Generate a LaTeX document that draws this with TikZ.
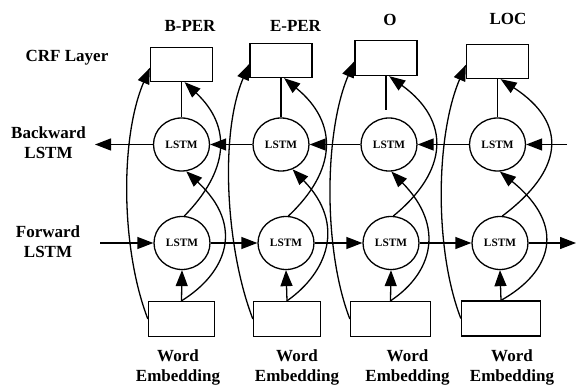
\documentclass[tikz,border=0pt]{standalone}
\usepackage{fontspec}
\setmainfont{Liberation Serif}
\usetikzlibrary{arrows.meta,shapes.geometric}

\begin{document}
\begin{tikzpicture}[x=1pt,y=-1pt,
  line width=1.3pt,
  tip/.style={-{Triangle[length=16pt,width=12pt]}},
  cell/.style={draw,ellipse,minimum width=56pt,minimum height=53pt,inner sep=0pt,
    font=\fontsize{11.3}{13}\selectfont\bfseries},
  crfbox/.style={draw,rectangle,minimum width=62pt,minimum height=34pt,inner sep=0pt},
  embbox/.style={draw,rectangle,minimum height=35pt,inner sep=0pt},
  lbl/.style={font=\fontsize{17}{20}\selectfont\bfseries,inner sep=0pt,align=center},
]
\useasboundingbox (0,0) rectangle (576,385);

% CRF layer boxes
\node[crfbox] (c1) at (181.5,64.5) {};
\node[crfbox] (c2) at (281,60.5) {};
\node[crfbox,minimum height=35pt] (c3) at (386,58) {};
\node[crfbox] (c4) at (497.5,61.5) {};

% backward LSTM cells
\node[cell] (b1) at (181.5,144.5) {LSTM};
\node[cell] (b2) at (281,144.5) {LSTM};
\node[cell] (b3) at (389,144.5) {LSTM};
\node[cell] (b4) at (497.5,144.5) {LSTM};

% forward LSTM cells
\node[cell] (f1) at (182,243) {LSTM};
\node[cell] (f2) at (286,243) {LSTM};
\node[cell] (f3) at (391,243) {LSTM};
\node[cell] (f4) at (500,243) {LSTM};

% word embedding boxes
\node[embbox,minimum width=66pt] (w1) at (181.5,319) {};
\node[embbox,minimum width=67pt] (w2) at (287,319) {};
\node[embbox,minimum width=80pt] (w3) at (390.5,319) {};
\node[embbox,minimum width=79pt] (w4) at (501,318.5) {};

% output tags
\node[lbl,anchor=base] (t1) at (190,32) {B-PER};
\node[lbl,anchor=base] (t2) at (295.5,32) {E-PER};
\node[lbl,anchor=base] (t3) at (390,25.5) {O};
\node[lbl,anchor=base] (t4) at (508,25) {LOC};

% row labels
\node[lbl,anchor=base] (lcrf) at (67,62) {CRF Layer};
\node[lbl,anchor=north] (lbw) at (48.5,126.5) {Backward\\LSTM};
\node[lbl,anchor=north] (lfw) at (48,225.5) {Forward\\LSTM};

% input labels
\node[lbl,anchor=north] (e1) at (178,349.5) {Word\\Embedding};
\node[lbl,anchor=north] (e2) at (297,349.5) {Word\\Embedding};
\node[lbl,anchor=north] (e3) at (407.5,349.5) {Word\\Embedding};
\node[lbl,anchor=north] (e4) at (512,349.5) {Word\\Embedding};

% free ends of the recurrent chains
\coordinate (bl) at (95,144.5);
\coordinate (br) at (567,144.5);
\coordinate (fl) at (100,243);
\coordinate (fr) at (576,243);

% backward cells to CRF
\draw (c1.south) -- (c1.south |- b1.north);
\draw (c2.south) -- (c2.south |- b2.north);
\draw[shorten >=7pt] (c3.south) -- (c3.south |- b3.north);
\draw (c4.south) -- (c4.south |- b4.north);

% embeddings into forward cells
\draw[tip] (w1.north) -- (f1.south);
\draw[tip] (w2.north) -- (f2.south);
\draw[tip] (w3.north) -- (f3.south);
\draw[tip] (w4.north) -- (f4.south);

% backward chain
\draw[tip] (br) -- (b4.east);
\draw[tip] (b4.west) -- (b3.east);
\draw[tip] (b3.west) -- (b2.east);
\draw[tip] (b2.west) -- (b1.east);
\draw[tip] (b1.west) -- (bl);

% forward chain
\draw[tip] (fl) -- (f1.west);
\draw[tip] (f1.east) -- (f2.west);
\draw[tip] (f2.east) -- (f3.west);
\draw[tip] (f3.east) -- (f4.west);
\draw[tip] (f4.east) -- (fr);

% forward cells to CRF
\draw[tip] (f1.85) .. controls +(44,-45) and +(48,45) .. (c1.-80);
\draw[tip] (f2.85) .. controls +(48,-45) and +(55,45) .. (c2.-80);
\draw[tip] (f3.85) .. controls +(55,-45) and +(62,45) .. (c3.-80);
\draw[tip] (f4.85) .. controls +(60,-45) and +(69,45) .. (c4.-80);

% embeddings into backward cells
\draw[tip] (w1.north) .. controls +(45,-28) and +(59,55) .. (b1.-80);
\draw[tip] (w2.north) .. controls +(40,-28) and +(54,55) .. (b2.-65);
\draw[tip] (w3.north) .. controls +(42,-28) and +(54,55) .. (b3.-85);
\draw[tip] (w4.north) .. controls +(50,-28) and +(68,55) .. (b4.-85);

% embeddings straight to CRF
\draw[tip] (w1.west) .. controls +(-27,-70) and +(-30,70) .. (c1.186);
\draw[tip] (w2.west) .. controls +(-27,-70) and +(-30,70) .. (c2.186);
\draw[tip] (w3.west) .. controls +(-27,-70) and +(-30,70) .. (c3.186);
\draw[tip] (w4.west) .. controls +(-27,-70) and +(-30,70) .. (c4.186);
\end{tikzpicture}
\end{document}
